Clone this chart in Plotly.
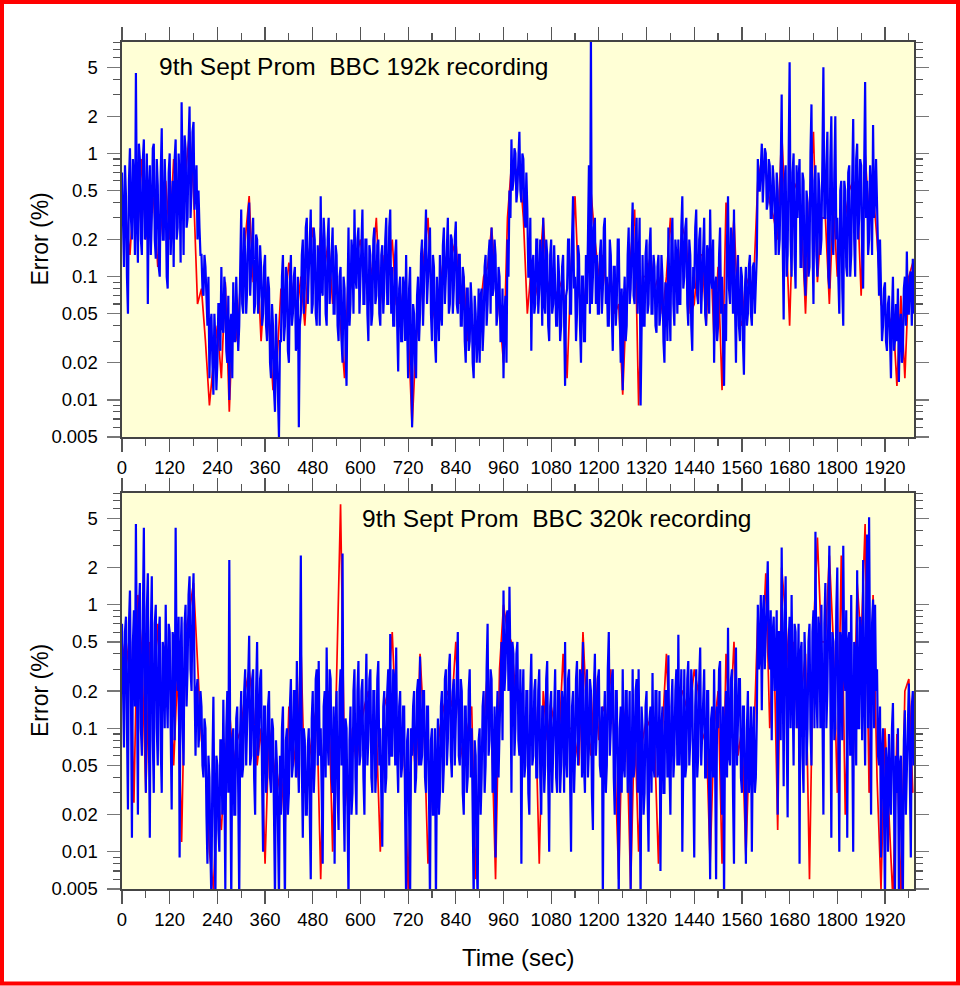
import numpy as np
import plotly.graph_objects as go

# ---------------- data ----------------
STEP_B = 5    # seconds between blue samples of one set; the second set sits half a step later
STEP_R = 10   # seconds between red samples

# Top panel: BBC 192k recording  (blue set A at t = 0,5,10..., set B at t = 2.5,7.5,...)
blue_192_a = [
    0.7, 0.12, 0.45, 0.05, 1.1, 0.2, 0.6, 4.5, 0.13, 0.9,
    0.15, 1.3, 0.25, 0.06, 0.8, 0.3, 1.2, 0.14, 0.55, 0.1,
    1.6, 0.2, 0.45, 0.08, 1.0, 0.35, 0.12, 1.3, 0.25, 0.6,
    2.6, 0.15, 1.1, 0.3, 2.4, 0.5, 1.8, 0.55, 0.2, 0.25,
    0.15, 0.07, 0.12, 0.04, 0.015, 0.05, 0.011, 0.03, 0.02, 0.06,
    0.12, 0.035, 0.08, 0.02, 0.01, 0.05, 0.09, 0.03, 0.06, 0.04,
    0.35, 0.05, 0.15, 0.08, 0.4, 0.12, 0.3, 0.06, 0.2, 0.07,
    0.12, 0.05, 0.15, 0.03, 0.08, 0.015, 0.04, 0.008, 0.02, 0.005,
    0.03, 0.15, 0.04, 0.1, 0.02, 0.15, 0.05, 0.12, 0.03, 0.006,
    0.05, 0.2, 0.08, 0.3, 0.1, 0.35, 0.06, 0.2, 0.04, 0.12,
    0.45, 0.07, 0.2, 0.04, 0.3, 0.1, 0.25, 0.05, 0.15, 0.03,
    0.12, 0.02, 0.08, 0.013, 0.25, 0.06, 0.15, 0.35, 0.08, 0.25,
    0.1, 0.35, 0.06, 0.2, 0.03, 0.15, 0.05, 0.25, 0.07, 0.2,
    0.04, 0.18, 0.08, 0.3, 0.06, 0.35, 0.12, 0.04, 0.2, 0.017,
    0.1, 0.03, 0.08, 0.15, 0.015, 0.12, 0.006, 0.05, 0.015, 0.1,
    0.05, 0.2, 0.08, 0.35, 0.1, 0.25, 0.03, 0.12, 0.02, 0.06,
    0.15, 0.04, 0.25, 0.1, 0.3, 0.06, 0.2, 0.08, 0.28, 0.05,
    0.15, 0.04, 0.1, 0.02, 0.08, 0.03, 0.06, 0.015, 0.05, 0.03,
    0.02, 0.08, 0.04, 0.15, 0.06, 0.2, 0.25, 0.08, 0.15, 0.05,
    0.1, 0.03, 0.015, 0.07, 0.2, 0.5, 1.3, 0.6, 1.0, 0.5,
    1.5, 0.4, 0.9, 0.25, 0.35, 0.1, 0.025, 0.15, 0.06, 0.2,
    0.08, 0.12, 0.3, 0.05, 0.15, 0.03, 0.2, 0.06, 0.1, 0.04,
    0.1, 0.04, 0.15, 0.013, 0.08, 0.2, 0.05, 0.45, 0.1, 0.05,
    0.15, 0.02, 0.1, 0.03, 0.06, 0.8, 9.0, 0.1, 0.3, 0.15,
    0.05, 0.2, 0.08, 0.3, 0.1, 0.04, 0.15, 0.025, 0.12, 0.06,
    0.2, 0.02, 0.012, 0.1, 0.04, 0.25, 0.08, 0.4, 0.06, 0.3,
    0.1, 0.009, 0.15, 0.04, 0.2, 0.06, 0.25, 0.05, 0.12, 0.035,
    0.15, 0.05, 0.1, 0.02, 0.08, 0.25, 0.03, 0.3, 0.04, 0.15,
    0.2, 0.06, 0.45, 0.1, 0.3, 0.04, 0.15, 0.025, 0.08, 0.35,
    0.06, 0.25, 0.1, 0.3, 0.04, 0.15, 0.35, 0.08, 0.02, 0.1,
    0.04, 0.25, 0.1, 0.013, 0.03, 0.45, 0.06, 0.15, 0.35, 0.02,
    0.15, 0.03, 0.1, 0.016, 0.12, 0.05, 0.15, 0.04, 0.13, 0.08,
    0.9, 0.5, 1.2, 0.6, 1.0, 0.4, 0.8, 0.3, 0.6, 0.15,
    0.5, 0.2, 3.0, 0.045, 0.8, 0.15, 5.5, 0.1, 1.0, 0.08,
    0.3, 0.9, 0.12, 0.6, 0.07, 0.4, 0.12, 2.5, 0.06, 0.8,
    0.1, 0.5, 0.2, 5.0, 0.3, 1.5, 0.08, 2.0, 0.15, 2.0,
    0.3, 0.05, 0.6, 0.04, 0.5, 0.1, 0.8, 0.15, 1.9, 0.1,
    1.2, 0.3, 0.8, 0.08, 3.8, 0.6, 0.2, 0.5, 1.7, 0.4,
    0.3, 0.07, 0.1, 0.04, 0.09, 0.025, 0.07, 0.015, 0.1, 0.03,
    0.03, 0.014, 0.05, 0.025, 0.1, 0.16, 0.05, 0.11, 0.14,
]
blue_192_b = [
    0.2, 0.8, 0.1, 0.6, 0.3, 0.9, 0.15, 0.3, 1.2, 0.2,
    0.9, 0.2, 1.0, 0.5, 0.15, 1.1, 0.2, 0.9, 0.12, 0.7,
    0.2, 0.9, 0.1, 0.7, 0.15, 0.6, 0.9, 0.2, 1.0, 0.13,
    0.3, 1.4, 0.25, 1.2, 0.3, 1.5, 0.35, 0.8, 0.5, 0.15,
    0.08, 0.15, 0.05, 0.1, 0.04, 0.02, 0.05, 0.012, 0.06, 0.025,
    0.04, 0.1, 0.025, 0.07, 0.04, 0.015, 0.03, 0.1, 0.025, 0.12,
    0.06, 0.25, 0.05, 0.3, 0.07, 0.25, 0.05, 0.22, 0.05, 0.18,
    0.04, 0.12, 0.04, 0.1, 0.02, 0.06, 0.012, 0.05, 0.01, 0.03,
    0.1, 0.03, 0.12, 0.025, 0.09, 0.04, 0.1, 0.025, 0.1, 0.04,
    0.15, 0.05, 0.25, 0.06, 0.2, 0.05, 0.25, 0.05, 0.18, 0.04,
    0.08, 0.3, 0.05, 0.2, 0.06, 0.2, 0.05, 0.18, 0.04, 0.1,
    0.03, 0.1, 0.025, 0.07, 0.04, 0.2, 0.05, 0.1, 0.2, 0.05,
    0.25, 0.06, 0.2, 0.05, 0.18, 0.04, 0.2, 0.06, 0.18, 0.05,
    0.15, 0.05, 0.2, 0.06, 0.25, 0.05, 0.04, 0.15, 0.04, 0.08,
    0.03, 0.1, 0.03, 0.04, 0.08, 0.02, 0.06, 0.02, 0.07, 0.03,
    0.15, 0.04, 0.25, 0.06, 0.2, 0.05, 0.15, 0.03, 0.1, 0.03,
    0.05, 0.18, 0.06, 0.2, 0.05, 0.22, 0.05, 0.2, 0.06, 0.15,
    0.04, 0.12, 0.03, 0.08, 0.025, 0.09, 0.02, 0.07, 0.02, 0.08,
    0.07, 0.025, 0.12, 0.04, 0.15, 0.05, 0.07, 0.2, 0.04, 0.12,
    0.03, 0.08, 0.05, 0.02, 0.1, 0.3, 0.5, 1.1, 0.4, 0.9,
    0.5, 1.0, 0.3, 0.7, 0.1, 0.3, 0.12, 0.05, 0.2, 0.05,
    0.2, 0.04, 0.06, 0.2, 0.04, 0.15, 0.05, 0.18, 0.04, 0.15,
    0.03, 0.12, 0.03, 0.07, 0.2, 0.05, 0.2, 0.08, 0.03, 0.18,
    0.04, 0.1, 0.03, 0.15, 0.2, 0.05, 0.06, 0.25, 0.06, 0.05,
    0.15, 0.05, 0.25, 0.06, 0.04, 0.2, 0.05, 0.12, 0.04, 0.2,
    0.05, 0.08, 0.06, 0.03, 0.15, 0.06, 0.2, 0.07, 0.2, 0.05,
    0.3, 0.08, 0.04, 0.15, 0.05, 0.18, 0.05, 0.15, 0.04, 0.12,
    0.04, 0.15, 0.03, 0.09, 0.03, 0.06, 0.2, 0.06, 0.2, 0.05,
    0.06, 0.25, 0.08, 0.25, 0.06, 0.2, 0.04, 0.12, 0.25, 0.07,
    0.2, 0.05, 0.2, 0.05, 0.18, 0.05, 0.1, 0.2, 0.08, 0.03,
    0.15, 0.05, 0.03, 0.06, 0.2, 0.08, 0.25, 0.05, 0.06, 0.1,
    0.04, 0.12, 0.03, 0.08, 0.04, 0.12, 0.05, 0.12, 0.05, 0.15,
    0.5, 1.0, 0.4, 1.1, 0.35, 0.9, 0.3, 0.8, 0.2, 0.7,
    0.15, 0.7, 0.2, 0.6, 0.1, 0.9, 0.2, 0.7, 0.15, 0.8,
    0.6, 0.12, 0.7, 0.1, 0.5, 0.1, 1.0, 0.2, 0.6, 0.15,
    0.7, 0.15, 0.9, 0.3, 0.8, 0.1, 0.9, 0.2, 0.7, 0.2,
    0.1, 0.5, 0.08, 0.6, 0.12, 0.7, 0.1, 0.6, 0.2, 0.9,
    0.2, 0.9, 0.15, 0.7, 0.3, 0.15, 0.8, 0.15, 0.3, 0.9,
    0.1, 0.2, 0.03, 0.08, 0.03, 0.06, 0.03, 0.05, 0.025, 0.06,
    0.08, 0.04, 0.02, 0.08, 0.04, 0.05, 0.1, 0.04, 0.05,
]
red_192 = [
    0.4, 0.3, 0.15, 0.5, 0.25, 0.9, 0.2, 0.6, 0.4, 0.12,
    0.3, 0.6, 0.2, 0.9, 0.35, 0.5, 0.7, 1.5, 0.5, 0.06,
    0.08, 0.03, 0.009, 0.02, 0.04, 0.015, 0.09, 0.008, 0.06, 0.03,
    0.12, 0.2, 0.45, 0.09, 0.15, 0.03, 0.1, 0.04, 0.012, 0.02,
    0.08, 0.06, 0.13, 0.07, 0.05, 0.1, 0.04, 0.15, 0.25, 0.07,
    0.25, 0.12, 0.2, 0.06, 0.1, 0.04, 0.015, 0.12, 0.08, 0.15,
    0.2, 0.1, 0.08, 0.12, 0.3, 0.06, 0.15, 0.1, 0.2, 0.06,
    0.05, 0.09, 0.04, 0.006, 0.03, 0.06, 0.15, 0.3, 0.06, 0.04,
    0.08, 0.15, 0.12, 0.15, 0.2, 0.06, 0.1, 0.03, 0.04, 0.04,
    0.05, 0.1, 0.12, 0.25, 0.1, 0.05, 0.02, 0.3, 0.8, 0.7,
    0.8, 0.3, 0.05, 0.12, 0.07, 0.1, 0.3, 0.08, 0.1, 0.07,
    0.08, 0.1, 0.015, 0.12, 0.45, 0.07, 0.05, 0.1, 0.5, 0.2,
    0.1, 0.15, 0.07, 0.1, 0.05, 0.06, 0.011, 0.07, 0.15, 0.35,
    0.009, 0.1, 0.1, 0.15, 0.08, 0.1, 0.05, 0.1, 0.3, 0.08,
    0.1, 0.25, 0.2, 0.05, 0.06, 0.15, 0.15, 0.04, 0.2, 0.03,
    0.12, 0.012, 0.4, 0.1, 0.3, 0.05, 0.04, 0.1, 0.08, 0.1,
    0.6, 0.9, 0.7, 0.4, 0.3, 0.2, 1.5, 0.3, 0.04, 0.5,
    0.6, 0.3, 0.05, 0.4, 1.5, 0.09, 0.3, 0.3, 0.06, 0.4,
    0.1, 0.2, 0.3, 0.5, 0.6, 0.5, 0.07, 1.0, 0.3, 0.5,
    0.2, 0.06, 0.05, 0.04, 0.05, 0.013, 0.07, 0.015, 0.1, 0.13,
]

# Bottom panel: BBC 320k recording
blue_320_a = [
    0.7, 0.07, 0.8, 0.022, 1.3, 0.013, 0.9, 4.5, 0.02, 1.5,
    0.06, 4.2, 0.03, 1.8, 0.013, 1.7, 0.03, 1.0, 0.05, 0.8,
    0.03, 0.4, 1.0, 0.1, 0.6, 0.022, 0.5, 4.2, 0.2, 0.009,
    0.8, 0.05, 1.0, 0.3, 1.7, 0.2, 1.8, 0.06, 0.25, 0.1,
    0.15, 0.04, 0.1, 0.008, 0.04, 0.004, 0.18, 0.004, 0.05, 0.01,
    0.08, 0.17, 0.005, 0.2, 2.3, 0.004, 0.1, 0.02, 0.15, 0.004,
    0.2, 0.05, 0.3, 0.1, 0.56, 0.06, 0.3, 0.02, 0.5, 0.1,
    0.3, 0.01, 0.15, 0.04, 0.2, 0.03, 0.1, 0.004, 0.05, 0.004,
    0.02, 0.15, 0.004, 0.1, 0.03, 0.25, 0.05, 0.2, 0.35, 0.03,
    2.5, 0.013, 0.08, 0.02, 0.1, 0.006, 0.2, 0.05, 0.3, 0.35,
    0.1, 0.008, 0.2, 0.45, 0.05, 0.25, 0.03, 0.008, 0.2, 0.015,
    0.3, 2.6, 0.01, 0.1, 0.004, 0.15, 0.03, 0.3, 0.02, 0.35,
    0.06, 0.25, 0.02, 0.4, 0.08, 0.3, 0.03, 0.2, 0.05, 0.35,
    0.1, 0.011, 0.2, 0.04, 0.3, 0.58, 0.06, 0.25, 0.45, 0.03,
    0.2, 0.05, 0.15, 0.004, 0.1, 0.004, 0.06, 0.2, 0.04, 0.25,
    0.38, 0.06, 0.2, 0.03, 0.15, 0.004, 0.1, 0.02, 0.004, 0.12,
    0.03, 0.2, 0.05, 0.3, 0.08, 0.4, 0.04, 0.25, 0.1, 0.6,
    0.05, 0.2, 0.02, 0.15, 0.04, 0.3, 0.1, 0.004, 0.06, 0.004,
    0.1, 0.04, 0.2, 0.05, 0.7, 0.08, 0.25, 0.04, 0.009, 0.2,
    0.1, 0.5, 1.3, 0.3, 0.9, 1.4, 0.03, 0.4, 0.1, 0.5,
    0.06, 0.008, 0.3, 0.05, 0.2, 0.02, 0.4, 0.06, 0.25, 0.04,
    0.3, 0.02, 0.15, 0.05, 0.35, 0.01, 0.2, 0.06, 0.3, 0.03,
    0.2, 0.05, 0.15, 0.5, 0.04, 0.3, 0.01, 0.2, 0.06, 0.35,
    0.08, 0.25, 0.5, 0.03, 0.3, 0.07, 0.2, 0.015, 0.4, 0.1,
    0.3, 0.04, 0.004, 0.2, 0.05, 0.6, 0.1, 0.3, 0.02, 0.2,
    0.004, 0.15, 0.3, 0.04, 0.2, 0.06, 0.005, 0.3, 0.05, 0.25,
    0.3, 0.004, 0.1, 0.03, 0.2, 0.01, 0.15, 0.28, 0.04, 0.2,
    0.05, 0.007, 0.15, 0.03, 0.2, 0.39, 0.02, 0.25, 0.06, 0.3,
    0.57, 0.1, 0.01, 0.3, 0.05, 0.35, 0.08, 0.2, 0.009, 0.3,
    0.06, 0.45, 0.1, 0.3, 0.04, 0.2, 0.006, 0.15, 0.3, 0.006,
    0.1, 0.35, 0.02, 0.004, 0.2, 0.65, 0.05, 0.3, 0.008, 0.45,
    0.1, 0.25, 0.03, 0.15, 0.008, 0.2, 0.05, 0.01, 0.15, 0.04,
    1.0, 0.4, 0.14, 1.2, 0.5, 2.25, 0.3, 0.08, 0.8, 0.3,
    0.02, 0.6, 2.9, 0.034, 1.7, 0.019, 0.8, 1.2, 0.05, 0.6,
    0.2, 0.008, 0.5, 0.03, 0.3, 0.1, 0.7, 0.05, 0.9, 3.9,
    0.1, 0.6, 1.0, 0.02, 1.5, 0.2, 3.0, 0.013, 0.5, 0.1,
    2.0, 0.01, 0.5, 3.0, 0.2, 0.013, 0.6, 1.2, 0.01, 0.4,
    1.9, 0.1, 0.5, 2.3, 0.05, 3.7, 5.1, 0.02, 1.1, 1.0,
    0.3, 0.05, 0.009, 0.1, 0.004, 0.05, 0.09, 0.02, 0.16, 0.004,
    0.03, 0.004, 0.06, 0.004, 0.14, 0.05, 0.23, 0.009, 0.2,
]
blue_320_b = [
    0.15, 0.6, 0.1, 0.7, 0.2, 0.5, 0.15, 0.3, 0.9, 0.1,
    0.8, 0.2, 0.9, 0.1, 0.6, 0.08, 0.7, 0.1, 0.6, 0.07,
    0.5, 0.1, 0.2, 0.7, 0.1, 0.6, 0.08, 0.3, 0.8, 0.4,
    0.1, 0.7, 0.15, 1.2, 0.3, 1.0, 0.25, 0.2, 0.07, 0.2,
    0.05, 0.12, 0.02, 0.06, 0.01, 0.05, 0.02, 0.06, 0.015, 0.08,
    0.02, 0.04, 0.1, 0.03, 0.05, 0.08, 0.02, 0.12, 0.03, 0.1,
    0.04, 0.2, 0.05, 0.3, 0.05, 0.25, 0.04, 0.2, 0.06, 0.25,
    0.04, 0.15, 0.03, 0.15, 0.04, 0.12, 0.02, 0.08, 0.015, 0.06,
    0.1, 0.02, 0.08, 0.02, 0.15, 0.04, 0.2, 0.04, 0.06, 0.2,
    0.05, 0.1, 0.02, 0.07, 0.02, 0.12, 0.03, 0.25, 0.05, 0.06,
    0.03, 0.15, 0.04, 0.08, 0.3, 0.04, 0.15, 0.1, 0.03, 0.2,
    0.05, 0.03, 0.12, 0.02, 0.08, 0.02, 0.2, 0.04, 0.2, 0.05,
    0.2, 0.04, 0.15, 0.05, 0.25, 0.04, 0.2, 0.03, 0.25, 0.05,
    0.03, 0.15, 0.03, 0.2, 0.05, 0.06, 0.3, 0.05, 0.06, 0.15,
    0.04, 0.15, 0.02, 0.08, 0.02, 0.1, 0.15, 0.03, 0.2, 0.05,
    0.05, 0.2, 0.04, 0.15, 0.03, 0.08, 0.02, 0.1, 0.05, 0.02,
    0.15, 0.03, 0.25, 0.05, 0.3, 0.06, 0.2, 0.05, 0.3, 0.06,
    0.25, 0.03, 0.15, 0.03, 0.2, 0.04, 0.02, 0.08, 0.01, 0.08,
    0.02, 0.15, 0.03, 0.3, 0.06, 0.3, 0.03, 0.15, 0.1, 0.04,
    0.3, 0.08, 0.2, 0.8, 0.2, 0.3, 0.5, 0.06, 0.4, 0.08,
    0.3, 0.15, 0.04, 0.2, 0.03, 0.2, 0.05, 0.2, 0.04, 0.2,
    0.04, 0.15, 0.03, 0.25, 0.04, 0.15, 0.03, 0.2, 0.04, 0.2,
    0.03, 0.2, 0.03, 0.06, 0.25, 0.04, 0.15, 0.03, 0.25, 0.05,
    0.3, 0.04, 0.05, 0.2, 0.04, 0.25, 0.03, 0.2, 0.06, 0.25,
    0.05, 0.15, 0.1, 0.03, 0.3, 0.06, 0.25, 0.04, 0.2, 0.04,
    0.1, 0.03, 0.05, 0.2, 0.03, 0.2, 0.1, 0.04, 0.2, 0.03,
    0.05, 0.15, 0.02, 0.15, 0.03, 0.12, 0.03, 0.05, 0.2, 0.04,
    0.2, 0.1, 0.03, 0.2, 0.04, 0.05, 0.15, 0.04, 0.2, 0.05,
    0.05, 0.3, 0.15, 0.04, 0.25, 0.05, 0.3, 0.04, 0.15, 0.04,
    0.25, 0.05, 0.25, 0.04, 0.2, 0.03, 0.12, 0.04, 0.05, 0.15,
    0.3, 0.05, 0.15, 0.1, 0.04, 0.06, 0.25, 0.03, 0.2, 0.05,
    0.25, 0.04, 0.15, 0.03, 0.1, 0.03, 0.15, 0.08, 0.03, 0.12,
    0.3, 1.2, 0.8, 0.3, 1.1, 0.4, 0.9, 0.6, 0.2, 0.9,
    0.6, 0.08, 0.2, 0.7, 0.1, 0.5, 0.1, 0.2, 0.7, 0.1,
    0.7, 0.4, 0.06, 0.6, 0.05, 0.5, 0.1, 0.6, 0.1, 0.2,
    0.8, 0.1, 0.15, 0.7, 0.1, 0.9, 0.2, 0.6, 0.08, 0.9,
    0.1, 0.6, 0.08, 0.3, 0.9, 0.5, 0.06, 0.1, 0.5, 0.05,
    0.1, 0.8, 0.08, 0.2, 0.9, 0.1, 0.3, 0.7, 0.1, 0.2,
    0.06, 0.15, 0.06, 0.02, 0.07, 0.01, 0.03, 0.1, 0.03, 0.06,
    0.1, 0.05, 0.01, 0.08, 0.02, 0.15, 0.04, 0.15, 0.05,
]
red_320 = [
    0.5, 0.3, 0.6, 0.025, 1.2, 0.4, 0.03, 0.5, 0.2, 0.7,
    0.15, 0.5, 0.3, 0.05, 0.3, 0.012, 0.6, 0.9, 1.5, 0.3,
    0.08, 0.05, 0.01, 0.005, 0.03, 0.015, 0.06, 0.15, 0.05, 0.08,
    0.1, 0.2, 0.3, 0.15, 0.05, 0.1, 0.008, 0.1, 0.06, 0.03,
    0.05, 0.015, 0.15, 0.08, 0.04, 0.5, 0.03, 0.05, 0.1, 0.15,
    0.006, 0.15, 0.2, 0.01, 0.2, 6.5, 0.05, 0.02, 0.1, 0.05,
    0.1, 0.15, 0.2, 0.08, 0.1, 0.01, 0.15, 0.2, 0.6, 0.1,
    0.08, 0.06, 0.005, 0.1, 0.04, 0.4, 0.1, 0.008, 0.04, 0.05,
    0.1, 0.15, 0.2, 0.15, 0.5, 0.08, 0.05, 0.1, 0.15, 0.006,
    0.05, 0.1, 0.3, 0.1, 0.006, 0.3, 1.0, 0.6, 0.5, 0.2,
    0.2, 0.1, 0.08, 0.1, 0.15, 0.008, 0.2, 0.08, 0.15, 0.1,
    0.08, 0.4, 0.1, 0.1, 0.08, 0.05, 0.6, 0.12, 0.06, 0.3,
    0.08, 0.15, 0.12, 0.3, 0.06, 0.006, 0.15, 0.1, 0.005, 0.12,
    0.01, 0.08, 0.12, 0.1, 0.08, 0.008, 0.1, 0.4, 0.06, 0.1,
    0.2, 0.2, 0.15, 0.15, 0.3, 0.2, 0.08, 0.1, 0.008, 0.1,
    0.2, 0.008, 0.4, 0.1, 0.5, 0.06, 0.1, 0.009, 0.1, 0.08,
    0.8, 0.3, 1.8, 0.1, 0.6, 0.015, 2.0, 0.8, 0.2, 0.5,
    0.1, 0.2, 0.4, 0.006, 0.6, 3.5, 0.5, 0.5, 2.5, 0.5,
    0.03, 2.5, 0.02, 0.3, 0.05, 1.5, 0.5, 4.5, 0.03, 1.2,
    0.04, 0.005, 0.1, 0.02, 0.004, 0.09, 0.004, 0.2, 0.25, 0.03,
]

panel_titles = ["9th Sept Prom\u00a0 BBC 192k recording",
                "9th Sept Prom\u00a0 BBC 320k recording"]
y_tickvals = [0.005, 0.01, 0.02, 0.05, 0.1, 0.2, 0.5, 1, 2, 5]
y_ticktext = ["0.005", "0.01", "0.02", "0.05", "0.1", "0.2", "0.5", "1", "2", "5"]
y_minor = [0.006, 0.007, 0.008, 0.009, 0.03, 0.04, 0.06, 0.07, 0.08, 0.09,
           0.3, 0.4, 0.6, 0.7, 0.8, 0.9, 3, 4, 6, 7, 8]
x_labels = list(range(0, 1921, 120))

# ---------------- figure ----------------
W, H = 960, 986
FONT = "Liberation Sans, Arial, Helvetica, sans-serif"


def merge_sets(a, b, step):
    """Put the two sample sets (a at k*step, b half a step later) in time order."""
    xs, ys = [], []
    for k in range(len(a)):
        xs.append(k * step)
        ys.append(a[k])
        if k < len(b):
            xs.append(k * step + step / 2)
            ys.append(b[k])
    return xs, ys


def times(vals, step):
    return [k * step for k in range(len(vals))]


fig = go.Figure()
series = [(red_192, blue_192_a, blue_192_b, "x", "y"),
          (red_320, blue_320_a, blue_320_b, "x2", "y2")]
for red, ba, bb, xa, ya in series:
    fig.add_trace(go.Scatter(x=times(red, STEP_R), y=red, mode="lines",
                             line=dict(color="#ff0000", width=1.7),
                             xaxis=xa, yaxis=ya, showlegend=False, hoverinfo="skip"))
    bx, by = merge_sets(ba, bb, STEP_B)
    fig.add_trace(go.Scatter(x=bx, y=by, mode="lines",
                             line=dict(color="#0000ff", width=2.2),
                             xaxis=xa, yaxis=ya, showlegend=False, hoverinfo="skip"))

xdom = [122 / W, 914 / W]
ydoms = [[1 - 437 / H, 1 - 42 / H], [1 - 889 / H, 1 - 493 / H]]


def xaxis_cfg(anchor):
    return dict(domain=xdom, anchor=anchor, range=[0, 1993], automargin=False,
                tickmode="array", tickvals=x_labels, ticktext=[str(v) for v in x_labels],
                ticks="outside", ticklen=13, tickwidth=1.2, tickcolor="#555",
                minor=dict(ticks="outside", dtick=60, tick0=0, ticklen=7,
                           tickwidth=1.2, tickcolor="#555"),
                showline=True, linecolor="#444", linewidth=1.6, mirror="ticks",
                showgrid=False, zeroline=False,
                tickfont=dict(family=FONT, size=18.5, color="black"))


def yaxis_cfg(anchor, dom):
    return dict(domain=dom, anchor=anchor, type="log", automargin=False,
                range=[np.log10(0.005), np.log10(8.02)],
                tickmode="array", tickvals=y_tickvals, ticktext=y_ticktext,
                ticks="outside", ticklen=13, tickwidth=1.2, tickcolor="#777",
                minor=dict(ticks="outside", tickmode="array", tickvals=y_minor,
                           ticklen=7, tickwidth=1.2, tickcolor="#555"),
                showline=True, linecolor="#444", linewidth=1.6, mirror="ticks",
                showgrid=False, zeroline=False, ticklabelstandoff=6,
                tickfont=dict(family=FONT, size=18.5, color="black"))


fig.update_layout(
    template="none",
    width=W, height=H,
    margin=dict(l=0, r=0, t=0, b=0),
    paper_bgcolor="white",
    plot_bgcolor="#ffffd6",
    showlegend=False,
    xaxis=xaxis_cfg("y"),
    yaxis=yaxis_cfg("x", ydoms[0]),
    xaxis2=xaxis_cfg("y2"),
    yaxis2=yaxis_cfg("x2", ydoms[1]),
)

ann = []
ann.append(dict(text=panel_titles[0], x=157 / W, y=1 - 67 / H, xref="paper", yref="paper",
                xanchor="left", yanchor="middle", showarrow=False,
                font=dict(family=FONT, size=24.5, color="black")))
ann.append(dict(text=panel_titles[1], x=360 / W, y=1 - 518 / H, xref="paper", yref="paper",
                xanchor="left", yanchor="middle", showarrow=False,
                font=dict(family=FONT, size=24.5, color="black")))
for d in ydoms:
    ann.append(dict(text="Error (%)", x=40 / W, y=(d[0] + d[1]) / 2, xref="paper", yref="paper",
                    xanchor="center", yanchor="middle", textangle=-90, showarrow=False,
                    font=dict(family=FONT, size=23, color="black")))
ann.append(dict(text="Time (sec)", x=518 / W, y=1 - 957 / H, xref="paper", yref="paper",
                xanchor="center", yanchor="middle", showarrow=False,
                font=dict(family=FONT, size=24, color="black")))
fig.update_layout(annotations=ann)

# red frame around the whole picture
fig.add_shape(type="rect", xref="paper", yref="paper",
              x0=2 / W, x1=1 - 2 / W, y0=2.5 / H, y1=1 - 2 / H,
              line=dict(color="#ff0000", width=4), fillcolor="rgba(0,0,0,0)", layer="above")

fig.write_html("out.html",
               config={"displayModeBar": False, "staticPlot": True},
               post_script="document.body.style.margin='0px';document.body.style.overflow='hidden';")
